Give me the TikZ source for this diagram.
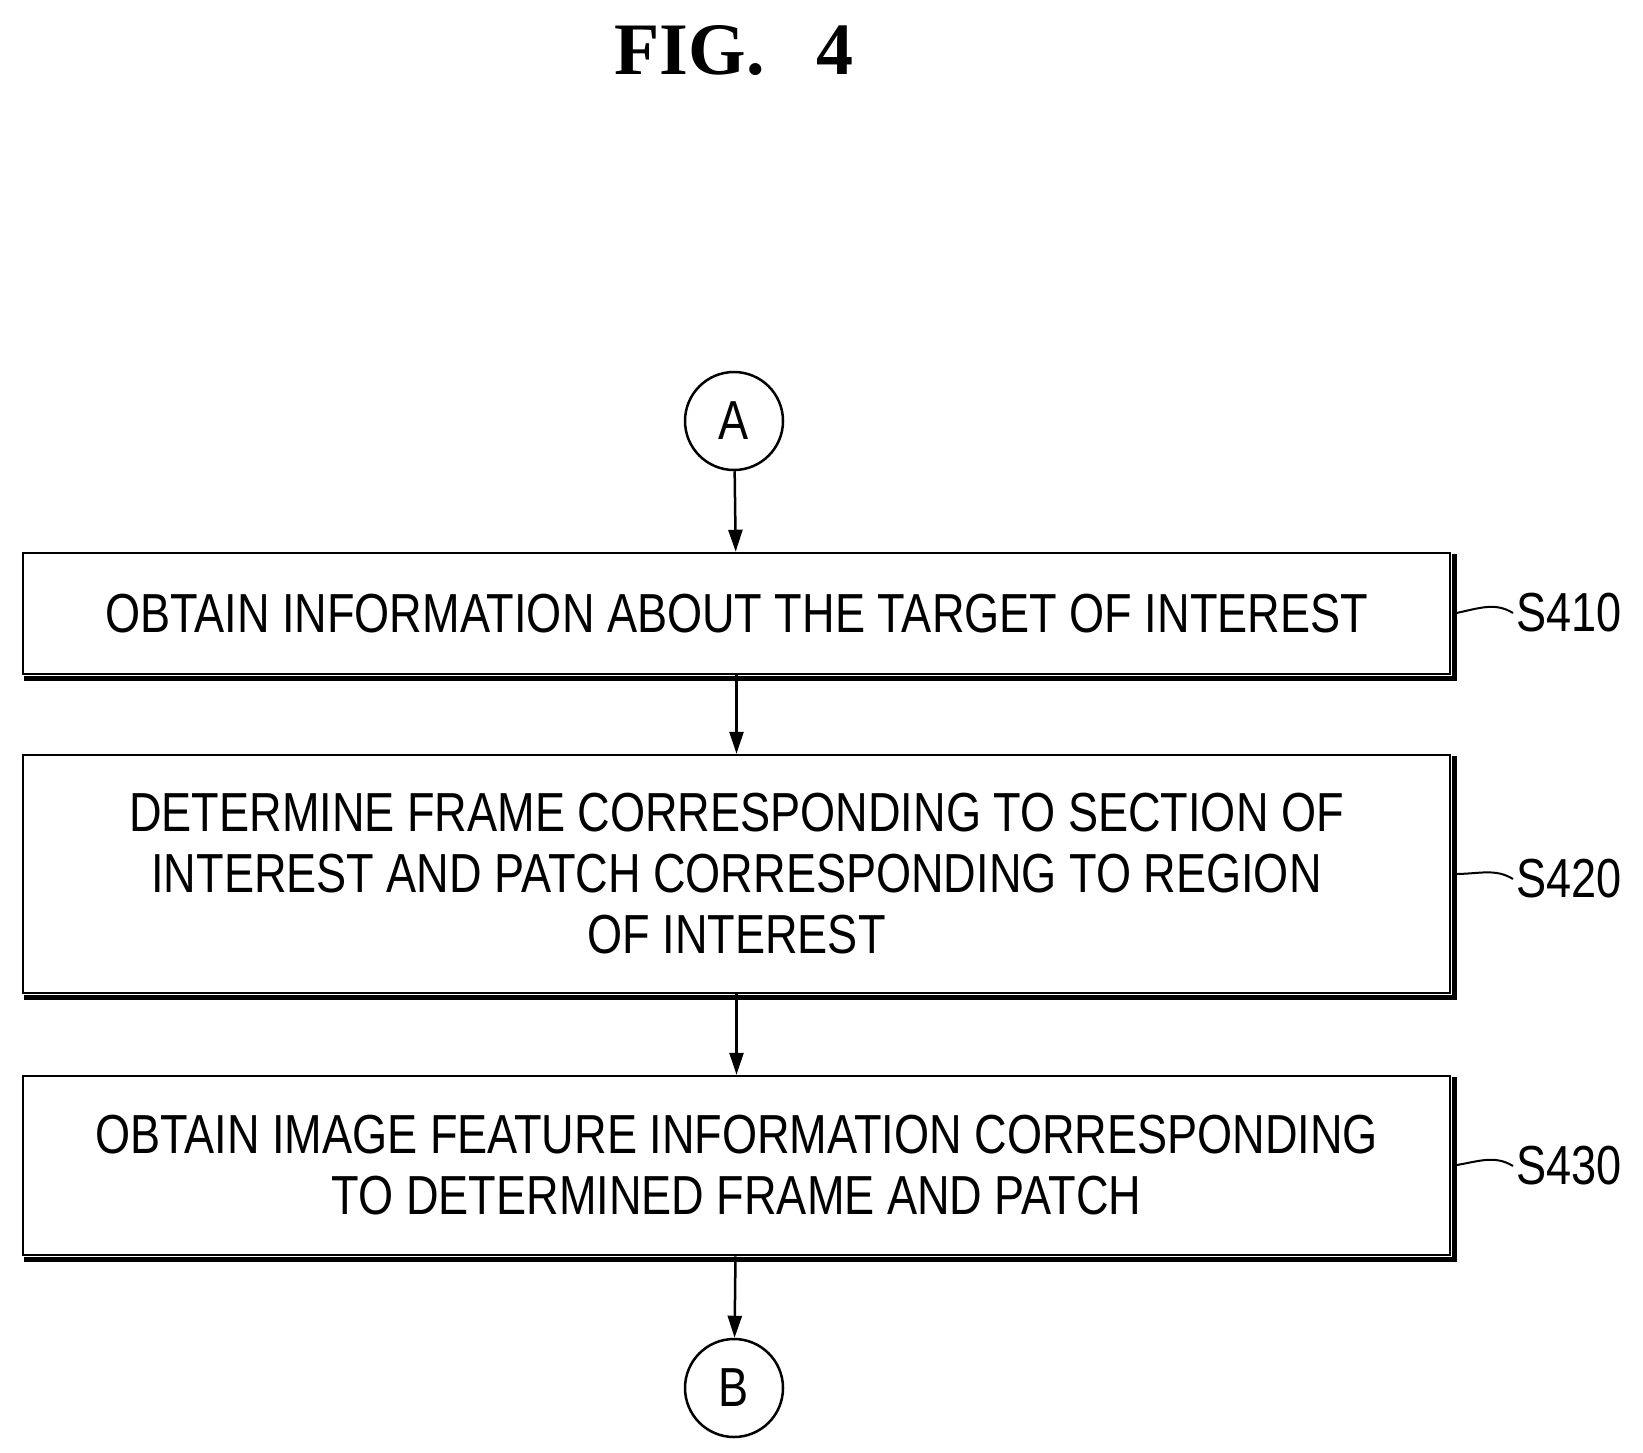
\documentclass[tikz,border=0pt]{standalone}
\usepackage{fontspec}
\setmainfont{Liberation Sans}[FakeStretch=0.82]
\newfontfamily\titlefont{Liberation Serif}
\usetikzlibrary{arrows.meta}
\begin{document}
\begin{tikzpicture}[x=1pt,y=-1pt,
  box/.style={draw,line width=2.5pt,align=center,font=\fontsize{55}{61}\selectfont},
  circ/.style={draw,circle,line width=2.5pt,minimum size=98pt,inner sep=0pt,font=\fontsize{55}{61}\selectfont},
  arr/.style={line width=2.5pt,-{Triangle[length=22pt,width=14pt]}},
  lbl/.style={anchor=west,font=\fontsize{55}{61}\selectfont},
  lead/.style={line width=2pt}]
\useasboundingbox (0,0) rectangle (1643,1453);
\node[font=\titlefont\bfseries\fontsize{74}{80}\selectfont] (t) at (734,51) {FIG.\hspace{0.7em}4};
\node[circ] (A) at (734,421) {A};
\node[circ] (B) at (734,1388) {B};
\node[box,minimum width=1427pt,minimum height=121pt] (s1) at (736.5,613.5) {OBTAIN INFORMATION ABOUT THE TARGET OF INTEREST};
\node[box,minimum width=1427pt,minimum height=238pt] (s2) at (736.5,874) {DETERMINE FRAME CORRESPONDING TO SECTION OF\\INTEREST AND PATCH CORRESPONDING TO REGION\\OF INTEREST};
\node[box,minimum width=1427pt,minimum height=179pt] (s3) at (736.5,1165.5) {OBTAIN IMAGE FEATURE INFORMATION CORRESPONDING\\TO DETERMINED FRAME AND PATCH};
\foreach \n in {s1,s2,s3}{
  \draw[line width=5pt] ([xshift=3pt,yshift=-2pt]\n.north east) -- ([xshift=3pt,yshift=-3pt]\n.south east) -- ([xshift=2pt,yshift=-3pt]\n.south west);
}
\draw[arr] (A) -- (s1);
\draw[arr] (s1) -- (s2);
\draw[arr] (s2) -- (s3);
\draw[arr] (s3) -- (B);
\node[lbl] (l1) at (1513,613) {S410};
\node[lbl] (l2) at (1513,879) {S420};
\node[lbl] (l3) at (1513,1166) {S430};
\draw[lead] (s1.east) ++(3pt,0) coordinate (c1) (c1) .. controls (1480,608) and (1495,602) .. (l1.west);
\draw[lead] (s2.east) ++(3pt,0) coordinate (c2) (c2) .. controls (1480,874) and (1495,868) .. (l2.west);
\draw[lead] (s3.east) ++(3pt,0) coordinate (c3) (c3) .. controls (1480,1161) and (1495,1155) .. (l3.west);
\end{tikzpicture}
\end{document}
